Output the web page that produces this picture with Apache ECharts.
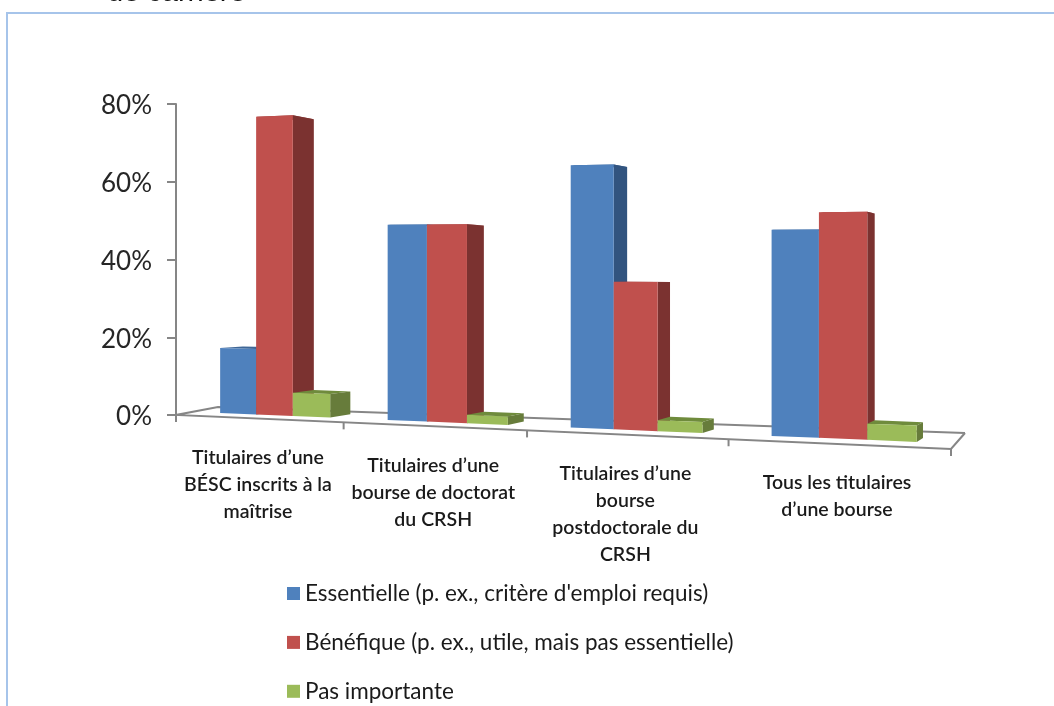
<!DOCTYPE html>
<html>
<head>
<meta charset="utf-8">
<style>
  html, body { margin: 0; padding: 0; background: #fff; }
  #chart { width: 1054px; height: 706px; }
</style>
<script src="https://cdn.jsdelivr.net/npm/echarts@6/dist/echarts.min.js"></script>
</head>
<body>
<div id="chart"></div>
<script>
const categories = [
  "Titulaires d’une\nBÉSC inscrits à la\nmaîtrise",
  "Titulaires d’une\nbourse de doctorat\ndu CRSH",
  "Titulaires d’une\nbourse\npostdoctorale du\nCRSH",
  "Tous les titulaires\nd’une bourse"
];
const essentielle = [16.5, 47.5, 61, 45.7];
const benefique = [75, 47.5, 34, 49.5];
const pasImportante = [5.8, 2, 2.5, 3.5];
const valueTicks = [0, 80, 20];

const GRID_LEFT = 176;
const GRID_TOP = 104;
const GRID_WIDTH = 775;
const GRID_HEIGHT = 311;
const BAND = GRID_WIDTH / categories.length;

// the original is a perspective 3D column chart, so the flat scales get warped here
const PERSP_A = 0.828 * BAND;
const PERSP_B = -0.043;
const FLOOR_SLOPE = 0.0439;
const BAR_SLOPE = 0.0415;
const BAR_WIDTH = 0.217;
const VANISH = [1180, 280];
const BAR_DEPTH = 0.0237;

function warpX(t) {
  return GRID_LEFT + PERSP_A * t / (1 + PERSP_B * t);
}

function floorY(x, zeroY) {
  return zeroY + FLOOR_SLOPE * (x - GRID_LEFT);
}

function toBack(p) {
  return [p[0] + BAR_DEPTH * (VANISH[0] - p[0]), p[1] + BAR_DEPTH * (VANISH[1] - p[1])];
}

function barCorner(te, zeroY, topY) {
  const x = warpX(te);
  const base = zeroY - 2 + BAR_SLOPE * (x - 220);
  return { bottom: [x, base], top: [x, base - (zeroY - topY) / (1 + PERSP_B * te)] };
}

function renderBar(j, colors) {
  return function (params, api) {
    const i = api.value(0);
    const zero = api.coord([i, 0]);
    const topY = api.coord([i, api.value(1)])[1];
    const band = api.size([1, 0])[0];
    const t = (zero[0] - GRID_LEFT) / band - 0.5;
    const te = 0.272 + 0.9765 * t + BAR_WIDTH * j;
    const l = barCorner(te, zero[1], topY);
    const r = barCorner(te + BAR_WIDTH, zero[1], topY);
    return {
      type: "group",
      children: [
        {
          type: "polygon",
          shape: { points: [l.top, r.top, toBack(r.top), toBack(l.top)] },
          style: { fill: colors.top }
        },
        {
          type: "polygon",
          shape: { points: [r.top, toBack(r.top), toBack(r.bottom), r.bottom] },
          style: { fill: colors.side }
        },
        {
          type: "polygon",
          shape: { points: [l.top, r.top, r.bottom, l.bottom] },
          style: { fill: colors.front }
        }
      ]
    };
  };
}

function renderFloor(params, api) {
  const i = api.value(0);
  const zeroY = api.coord([0, 0])[1];
  const lineStyle = { stroke: "#868686", lineWidth: 2, fill: null };
  const children = [];

  if (i === 0) {
    const frontLeft = [warpX(0), floorY(warpX(0), zeroY)];
    const frontRight = [warpX(categories.length), floorY(warpX(categories.length), zeroY)];
    const backLeft = [frontLeft[0] + 42, frontLeft[1] - 8];
    const backRight = [frontRight[0] + 14, frontRight[1] - 16];
    children.push({
      type: "polyline",
      shape: { points: [backRight, backLeft, frontLeft, frontRight, backRight] },
      style: lineStyle
    });
    children.push({
      type: "line",
      shape: { x1: frontLeft[0], y1: frontLeft[1], x2: frontLeft[0], y2: frontLeft[1] + 7 },
      style: lineStyle
    });
  }

  const tickX = warpX(i + 1);
  children.push({
    type: "line",
    shape: { x1: tickX, y1: floorY(tickX, zeroY), x2: tickX, y2: floorY(tickX, zeroY) + 7 },
    style: lineStyle
  });

  const labelX = warpX(i + 0.5);
  children.push({
    type: "text",
    style: {
      text: categories[i],
      x: labelX,
      y: floorY(labelX, zeroY) + 25.5,
      align: "center",
      verticalAlign: "top",
      fill: "#1a1a1a",
      font: "600 19.5px Lato",
      lineHeight: 27
    }
  });

  return { type: "group", children: children };
}

function barSeries(name, values, j, colors) {
  return {
    name: name,
    type: "custom",
    renderItem: renderBar(j, colors),
    itemStyle: { color: colors.front },
    encode: { x: 0, y: 1 },
    data: values.map((v, i) => [i, v])
  };
}

const chart = echarts.init(document.getElementById("chart"));
chart.setOption({
  animation: false,
  backgroundColor: "#ffffff",
  textStyle: { fontFamily: "Lato" },
  grid: { left: GRID_LEFT, top: GRID_TOP, width: GRID_WIDTH, height: GRID_HEIGHT, containLabel: false },
  legend: {
    orient: "vertical",
    left: 287,
    top: 582,
    padding: 0,
    itemWidth: 13,
    itemHeight: 13,
    itemGap: 25.9,
    icon: "rect",
    data: ["Essentielle (p. ex., critère d'emploi requis)", "Bénéfique (p. ex., utile, mais pas essentielle)", "Pas importante"],
    textStyle: { fontFamily: "Lato", fontSize: 22.5, color: "#1a1a1a", lineHeight: 20 }
  },
  xAxis: {
    type: "category",
    data: categories,
    axisLine: { show: false },
    axisTick: { show: false },
    axisLabel: { show: false },
    splitLine: { show: false }
  },
  yAxis: {
    type: "value",
    min: valueTicks[0],
    max: valueTicks[1],
    interval: valueTicks[2],
    axisLine: { show: true, lineStyle: { color: "#868686", width: 2 } },
    axisTick: { show: true, length: 9, lineStyle: { color: "#868686", width: 2 } },
    splitLine: { show: false },
    axisLabel: {
      formatter: (v) => `{v|${v}%}`,
      margin: 24,
      rich: {
        v: { color: "#262626", fontFamily: "Lato", fontSize: 26, padding: [4, 0, 0, 0] }
      }
    }
  },
  series: [
    {
      name: "plancher",
      type: "custom",
      renderItem: renderFloor,
      silent: true,
      data: categories.map((c, i) => [i, 0]),
      z: 1
    },
    barSeries("Essentielle (p. ex., critère d'emploi requis)", essentielle, 0, { front: "#4F81BD", side: "#32547F", top: "#3F6797" }),
    barSeries("Bénéfique (p. ex., utile, mais pas essentielle)", benefique, 1, { front: "#C0504D", side: "#7B3230", top: "#9A403E" }),
    barSeries("Pas importante", pasImportante, 2, { front: "#9BBB59", side: "#677C3B", top: "#6F8B3C" })
  ],
  graphic: [
    {
      type: "polyline",
      silent: true,
      shape: { points: [[7, 706], [7, 13], [1054, 13]] },
      style: { stroke: "#A6C4EA", lineWidth: 2, fill: null }
    },
    {
      type: "text",
      silent: true,
      style: { text: "de carrière", x: 107, y: 7, verticalAlign: "bottom", fill: "#111", font: "29px 'Liberation Sans'" }
    }
  ]
});
</script>
</body>
</html>
